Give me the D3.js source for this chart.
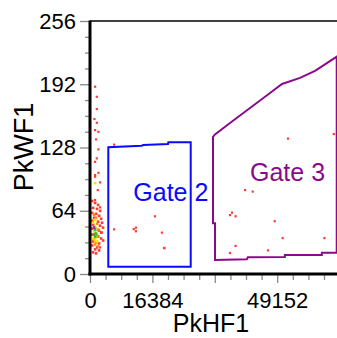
<!DOCTYPE html>
<html><head><meta charset="utf-8">
<script src="https://cdn.jsdelivr.net/npm/d3@7"></script>
<style>html,body{margin:0;padding:0;background:#fff;overflow:hidden}</style>
</head><body>
<svg id="c" width="337" height="338"></svg>
<script>
// ---- data ----
const xTicksMajor = [0, 16384, 32768, 49152];
const xTickLabels = ["0", "16384", "", "49152"];
const yTicksMajor = [0, 64, 128, 192, 256];
const yTickLabels = ["0", "64", "128", "192", "256"];
const xLabel = "PkHF1";
const yLabel = "PkWF1";

// scattered events [PkHF1, PkWF1]
const eventsX = [1313,1760,1760,1130,1760,1313,2180,1576,2180,1760,1313,2180,1313,1313,2020,1313,2626,2626,3070,2626,
  6300,11450,17020,6300,12030,12030,18860,19470,19470,
  40700,42700,36740,37260,38200,48460,50560,61520,38200,36740,46700,51960,64000];
const eventsY = [189.6,179.4,167,156.9,153.1,145.7,144,136.3,126.2,117.1,113.6,102.5,100.2,98.5,85,74.9,92.8,67.5,42.2,27,
  131,45.5,58.5,45.3,47,43.3,42,26.5,26.2,
  85,83.5,59.7,62.2,58.5,53.5,36.4,36.4,28.5,21.3,24,137.1,141.7];

// dense cluster near PkHF1 = 0: [PkHF1, PkWF1, density level]
const clusterX = [525,1313,2100,788,1838,2626,525,1576,2363,1050,2890,525,2100,788,2626,3400,525,2363,525,2100,2890,788,2363,525,1838,1313,2363,788,1576,3150,2890,3420,
  1050,1576,1838,1050,2100,1313,1838,1050,1576,2100,1313,
  1313,788,1576,1050,1576,788,1313,1838,1313,
  1313,1050,1576,1313,
  1050];
const clusterY = [74,72,70,67,66,64,62,61,59,57,56,54,53,50,49,47,46,44,40,38,36,33,31,29,27,25,24,22,21,52,42,34,
  60,57,51,48,45,42,39,35,32,28,30,
  55,52,47,43,37,36,34,33,92,
  45,40,41,38,
  47];
const clusterLevel = [0,0,0,0,0,0,0,0,0,0,0,0,0,0,0,0,0,0,0,0,0,0,0,0,0,0,0,0,0,0,0,0,
  1,1,1,1,1,1,1,1,1,1,1,
  2,2,2,2,2,2,2,2,2,
  3,3,3,3,
  4];

// gates [PkHF1, PkWF1]
const gate2X = [4805,4805,13577,13997,20483,20562,26444,26444];
const gate2Y = [7.4,128.2,129.8,130.5,131.6,133.3,133.3,7.4];
const gate3X = [32296,32820,37547,42016,47268,50419,55146,59085,64780,64780,60877,60877,51165,51165,41452,41190,32820,32820,32296];
const gate3Y = [138.7,141.2,155.1,168.0,183.2,192.3,198.4,205.5,219.9,21.6,21.6,19.2,19.2,17.2,16.9,14.9,14.2,51.3,51.3];
const gateNames = ["Gate 2", "Gate 3"];
const gateLabelX = [11370, 42016];
const gateLabelY = [73.9, 93.6];

// ---- drawing ----
const svg = d3.select("#c");
const font = "'Liberation Sans', Arial, sans-serif";
const x = d3.scaleLinear().domain([0, 65536]).range([90, 339.6]);
const y = d3.scaleLinear().domain([0, 256]).range([274, 21]);
const levelColor = ["#ff3b30", "#ff8c00", "#ffe000", "#33b233", "#6a3ad0"];

const plot = svg.append("g");
plot.append("defs").append("clipPath").attr("id","clip")
  .append("rect").attr("x", 90).attr("y", 21).attr("width", 250).attr("height", 253);
const inner = plot.append("g").attr("clip-path","url(#clip)");

// events
inner.selectAll(".ev").data(eventsX.map((v,i)=>[v,eventsY[i]])).join("rect")
  .attr("x", d=>x(d[0])-1).attr("y", d=>y(d[1])-1).attr("width", 2.2).attr("height", 2.2)
  .attr("fill", levelColor[0]);
const cl = clusterX.map((v,i)=>[v,clusterY[i],clusterLevel[i]]).sort((a,b)=>a[2]-b[2]);
inner.selectAll(".cl").data(cl).join("rect")
  .attr("x", d=>x(d[0])-1.2).attr("y", d=>y(d[1])-1.2).attr("width", 2.6).attr("height", 2.6)
  .attr("fill", d=>levelColor[d[2]]);

// gates
const line = d3.line().x(d=>x(d[0])).y(d=>y(d[1])).curve(d3.curveLinearClosed);
inner.append("path").datum(gate2X.map((v,i)=>[v,gate2Y[i]]))
  .attr("d", line).attr("fill","none").attr("stroke","#0a0aff").attr("stroke-width",2);
inner.append("path").datum(gate3X.map((v,i)=>[v,gate3Y[i]]))
  .attr("d", line).attr("fill","none").attr("stroke","#8b0a8b").attr("stroke-width",2);
const gateColors = ["#0a0aff", "#8b0a8b"];
gateNames.forEach((n,i)=>{
  plot.append("text").attr("x", x(gateLabelX[i])).attr("y", y(gateLabelY[i]))
    .attr("font-family", font).attr("font-size", 25).attr("fill", gateColors[i]).text(n);
});

// minor ticks
const xMinor = d3.range(0, 65537, 4096).filter(v=>!xTicksMajor.includes(v));
const yMinor = d3.range(0, 257, 16).filter(v=>!yTicksMajor.includes(v));
svg.append("g").attr("transform","translate(0,275)")
  .call(d3.axisBottom(x).tickValues(xMinor).tickSize(5).tickFormat(""))
  .call(g=>g.select(".domain").remove())
  .call(g=>g.selectAll("line").attr("stroke","#888").attr("stroke-width",1.3));
svg.append("g").attr("transform","translate(89,0)")
  .call(d3.axisLeft(y).tickValues(yMinor).tickSize(4).tickFormat(""))
  .call(g=>g.select(".domain").remove())
  .call(g=>g.selectAll("line").attr("stroke","#888").attr("stroke-width",1.3));

// major ticks with labels
svg.append("g").attr("transform","translate(0,275)")
  .call(d3.axisBottom(x).tickValues(xTicksMajor).tickSize(8).tickPadding(9)
        .tickFormat((d,i)=>xTickLabels[i]))
  .call(g=>g.select(".domain").remove())
  .call(g=>g.selectAll("line").attr("stroke","#888").attr("stroke-width",1.3))
  .call(g=>g.selectAll("text").attr("font-family",font).attr("font-size",22).attr("fill","#000"));
svg.append("g").attr("transform","translate(89,0)")
  .call(d3.axisLeft(y).tickValues(yTicksMajor).tickSize(9).tickPadding(4)
        .tickFormat((d,i)=>yTickLabels[i]))
  .call(g=>g.select(".domain").remove())
  .call(g=>g.selectAll("line").attr("stroke","#888").attr("stroke-width",1.3))
  .call(g=>g.selectAll("text").attr("font-family",font).attr("font-size",22).attr("fill","#000"));

// frame lines
svg.append("line").attr("x1",x(0)).attr("x2",337).attr("y1",y(256)).attr("y2",y(256))
  .attr("stroke","#000").attr("stroke-width",1.5);
svg.append("line").attr("x1",x(0)).attr("x2",x(0)).attr("y1",y(256)-0.5).attr("y2",275.5)
  .attr("stroke","#000").attr("stroke-width",3);
svg.append("line").attr("x1",x(0)-1.5).attr("x2",337).attr("y1",274).attr("y2",274)
  .attr("stroke","#000").attr("stroke-width",3);

// axis titles
svg.append("text").attr("x", 211).attr("y", 332).attr("text-anchor","middle")
  .attr("font-family",font).attr("font-size",25).attr("fill","#000").text(xLabel);
svg.append("text").attr("transform","translate(33,147) rotate(-90)").attr("text-anchor","middle")
  .attr("font-family",font).attr("font-size",27).attr("fill","#000").text(yLabel);
</script>
</body></html>
